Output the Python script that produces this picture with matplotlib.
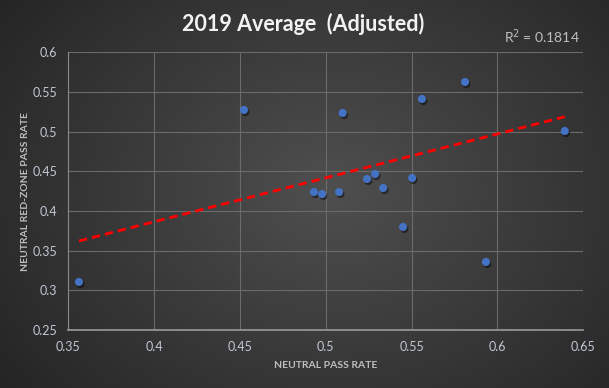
import numpy as np
import matplotlib
matplotlib.use("Agg")
import matplotlib.pyplot as plt
import matplotlib.patheffects as pe

# neutral pass rate vs neutral red-zone pass rate, 2019 (adjusted)
pass_rate = [0.3562, 0.4523, 0.4931, 0.4978, 0.5077, 0.5098, 0.5240, 0.5287,
             0.5334, 0.5450, 0.5503, 0.5560, 0.5811, 0.5933, 0.6392]
rz_pass_rate = [0.3106, 0.5275, 0.4240, 0.4215, 0.4240, 0.5237, 0.4405, 0.4468,
                0.4291, 0.3800, 0.4417, 0.5414, 0.5628, 0.3358, 0.5010]

# linear trendline as shown on the chart (ends at first/last point)
trend_x = [0.3562, 0.6392]
trend_y = [0.3623, 0.5190]
r_squared = 0.1814

x_ticks = [0.35, 0.4, 0.45, 0.5, 0.55, 0.6, 0.65]
y_ticks = [0.25, 0.3, 0.35, 0.4, 0.45, 0.5, 0.55, 0.6]

plt.rcParams['font.family'] = ['Lato', 'DejaVu Sans']

fig = plt.figure(figsize=(6.09, 3.88), dpi=100)

# dark radial background
bg = fig.add_axes([0, 0, 1, 1], zorder=-10)
yy, xx = np.mgrid[0:388, 0:609]
r = np.sqrt(((xx - 330) / 420.0) ** 2 + ((yy - 190) / 330.0) ** 2)
shade = np.clip(0.31 - 0.17 * r, 0.13, 0.31)
bg.imshow(np.dstack([shade, shade, shade]), aspect='auto', interpolation='bilinear')
bg.axis('off')

ax = fig.add_axes([0.1122, 0.1495, 0.8456, 0.7152])
ax.set_facecolor('none')

grid_c = '#6b6b6b'
ax.set_xlim(0.35, 0.65)
ax.set_ylim(0.25, 0.6)
ax.set_xticks(x_ticks)
ax.set_yticks(y_ticks)
ax.set_xticklabels([f'{t:g}' for t in x_ticks])
ax.set_yticklabels([f'{t:g}' for t in y_ticks])
ax.grid(True, color=grid_c, linewidth=0.8)
ax.set_axisbelow(True)
for side in ['top', 'right']:
    ax.spines[side].set_visible(False)
ax.spines['left'].set_color('#8a8a8a')
ax.spines['bottom'].set_color('#9a9a9a')
ax.spines['bottom'].set_linewidth(1.2)
ax.tick_params(length=0, colors='#c8c8c8', labelsize=9, pad=8)
for lbl in ax.get_xticklabels() + ax.get_yticklabels():
    lbl.set_color('#c0c8d4')

ax.plot(trend_x, trend_y, color='#ff0000', linewidth=2,
        dashes=(3, 1.8), zorder=2)

sc = ax.scatter(pass_rate, rz_pass_rate, s=34, color='#4472c4', zorder=3,
                linewidths=0)
sc.set_path_effects([pe.SimplePatchShadow(offset=(1, -1.5), shadow_rgbFace='black',
                                          alpha=0.45), pe.Normal()])

ax.set_xlabel('NEUTRAL PASS RATE', fontsize=7.5, fontweight='bold',
              color='#bfbfbf', labelpad=6)
ax.set_ylabel('NEUTRAL RED-ZONE PASS RATE', fontsize=7.5, fontweight='bold',
              color='#bfbfbf', labelpad=2)

fig.text(0.498, 0.938, '2019 Average  (Adjusted)', ha='center', va='center',
         fontsize=15.5, fontweight='bold', color='#f2f2f2')
fig.text(0.952, 0.905, f'R$^2$ = {r_squared}', ha='right', va='center',
         fontsize=10, color='#bfbfbf')

fig.savefig('out.png', dpi=100)
